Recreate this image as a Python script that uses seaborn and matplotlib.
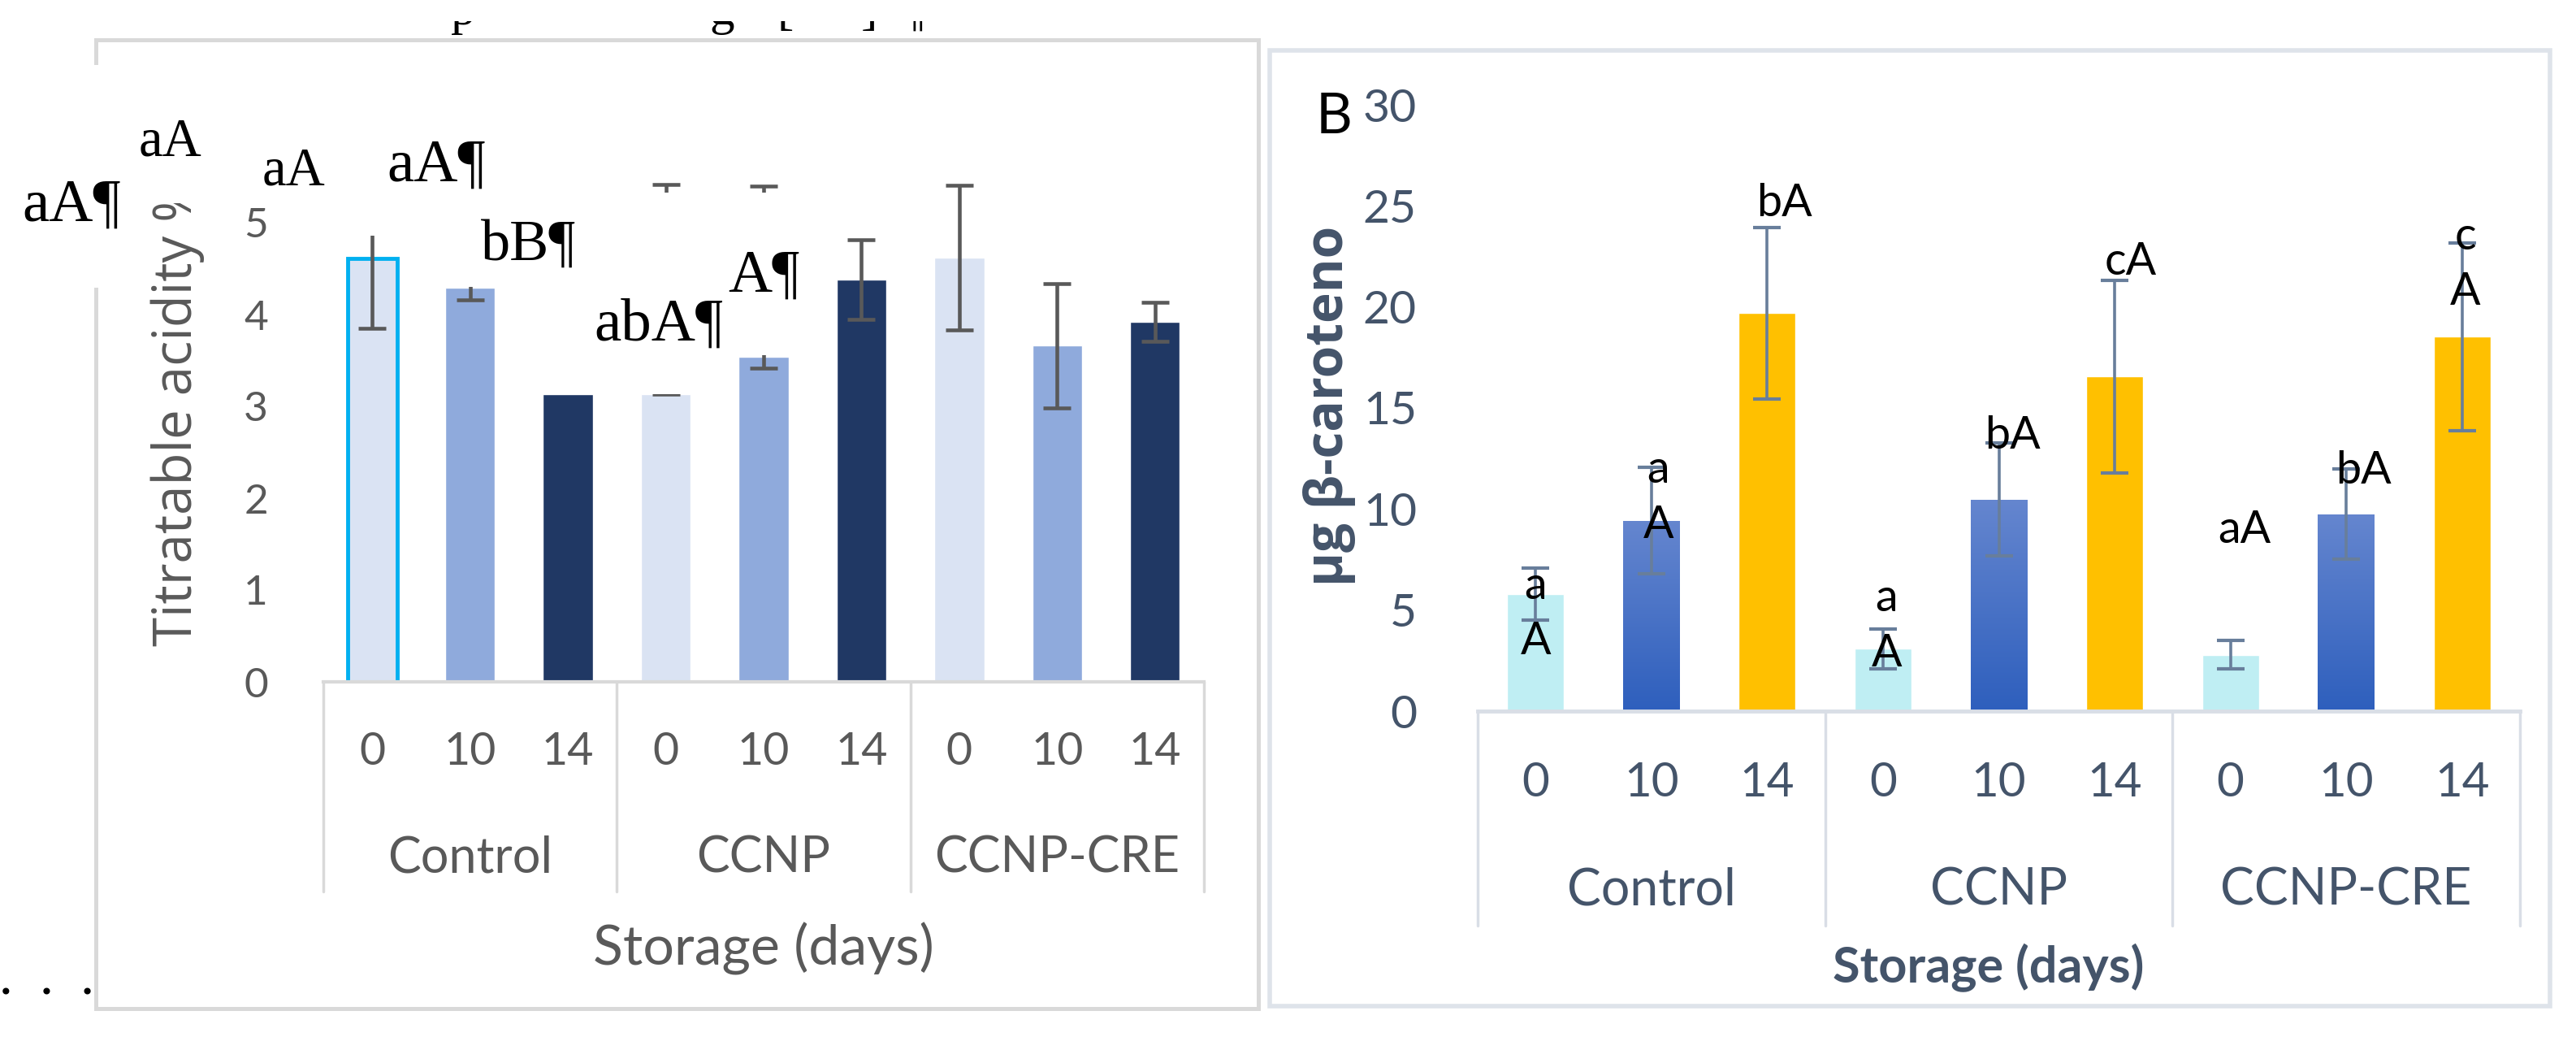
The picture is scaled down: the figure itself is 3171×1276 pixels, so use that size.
import numpy as np
import pandas as pd
import matplotlib
matplotlib.use('Agg')
import matplotlib.pyplot as plt
import matplotlib.transforms as mtransforms
from matplotlib.patches import Rectangle
from matplotlib.colors import LinearSegmentedColormap
import seaborn as sns

sns.set_theme(style="white")
plt.rcParams['font.family'] = ['Lato', 'DejaVu Sans']

groups = ['Control', 'CCNP', 'CCNP-CRE']
days = ['0', '10', '14']

# panel A - titratable acidity
acid = [4.61, 4.29, 3.13, 3.13, 3.54, 4.38, 4.62, 3.66, 3.92]
acid_lo = [0.76, 0.13, 0.0, 0.0, 0.12, 0.43, 0.79, 0.68, 0.21]
acid_hi = [0.76, 0.13, 0.0, 2.29, 1.86, 0.43, 0.79, 0.68, 0.21]
acid_letters = ['aA¶', 'aA', 'aA', 'aA¶', 'bB¶', 'abA¶', 'A¶']

# panel B - beta carotene
carot = [5.79, 9.43, 19.70, 3.08, 10.47, 16.55, 2.78, 9.75, 18.52]
carot_err = [1.27, 2.63, 4.24, 1.00, 2.80, 4.75, 0.70, 2.22, 4.65]
carot_letters = ['a\nA', 'a\nA', 'bA', 'a\nA', 'bA', 'cA', 'aA', 'bA', 'c\nA']

# where the letter boxes sit (data coords) and their font size
acid_letter_pos = [(-1.357, 5.18, 54), (-1.022, 5.88, 48), (-0.60, 5.56, 48), (-0.116, 5.61, 54),
                   (0.20, 4.75, 52), (0.643, 3.88, 54), (1.0, 4.41, 54)]
carot_letter_pos = [(0.0, 4.8), (0.02, 10.55), (0.05, 25.1), (0.01, 4.2), (0.04, 13.6),
                    (0.045, 22.2), (0.04, 8.96), (0.05, 11.9), (0.01, 22.1)]

W, H = 3171, 1276
fig = plt.figure(figsize=(W / 100, H / 100), dpi=100)

# chart frames of the two pasted excel charts
fig.add_artist(Rectangle((118 / W, 1 - 1241 / H), 1431 / W, 1192 / H, transform=fig.transFigure,
                         fill=False, edgecolor='#D9D9D9', lw=3.6, zorder=-3))
fig.add_artist(Rectangle((1563 / W, 1 - 1238 / H), 1576 / W, 1176 / H, transform=fig.transFigure,
                         fill=False, edgecolor='#DEE3EA', lw=4, zorder=-3))
# text box hiding part of the left frame
fig.add_artist(Rectangle((100 / W, 1 - 354 / H), 40 / W, 274 / H, transform=fig.transFigure,
                         facecolor='white', edgecolor='none', zorder=-2))

# ---------------- panel A ----------------
ax1 = fig.add_axes([398 / W, 1 - 839 / H, 1084 / W, 678 / H])
ax1.patch.set_alpha(0)
df_a = pd.DataFrame({'group': np.repeat(groups, 3), 'day': days * 3, 'value': acid})
sns.barplot(data=df_a, x='group', y='value', hue='day', hue_order=days,
            palette=['#DAE3F3', '#8FAADC', '#203864'], width=1.0, gap=0.49,
            saturation=1, errorbar=None, legend=False, ax=ax1)
bars1 = sorted(ax1.patches, key=lambda p: p.get_x())
x1 = [p.get_x() + p.get_width() / 2 for p in bars1]
bars1[0].set_edgecolor('#00B0F0')
bars1[0].set_linewidth(3.5)

idx = [i for i in range(9) if acid_lo[i] + acid_hi[i] > 0]
ax1.errorbar([x1[i] for i in idx], [acid[i] for i in idx],
             yerr=[[acid_lo[i] for i in idx], [acid_hi[i] for i in idx]],
             fmt='none', ecolor='#595959', elinewidth=3.3, capsize=12, capthick=3.3, zorder=3)

# white fills of the overlapping word text boxes
for (xa, xb, ya, yb) in [(-0.42, -0.25, 4.86, 5.45), (-0.07, 0.07, 4.305, 4.47),
                         (0.55, 0.84, 3.135, 5.33), (0.84, 1.12, 3.56, 5.33)]:
    ax1.add_patch(Rectangle((xa, ya), xb - xa, yb - ya, facecolor='white', edgecolor='none', zorder=4))
# box covering the end of the y label
ax1.add_patch(Rectangle((-0.215, 0.869), 0.1, 0.27, transform=ax1.transAxes, facecolor='white',
                        edgecolor='none', clip_on=False, zorder=5))

for lab, (lx, ly, fs) in zip(acid_letters, acid_letter_pos):
    ax1.text(lx, ly, lab, ha='center', va='center', fontsize=fs, family='Liberation Serif',
             color='black', clip_on=False, zorder=6)

ax1.set_xlim(-0.5, 2.5)
ax1.set_ylim(0, 6)
ax1.set_yticks(range(6))
ax1.set_xticks(x1, days * 3)
ax1.tick_params(axis='y', length=0, pad=49, labelsize=37, labelcolor='#595959')
ax1.tick_params(axis='x', length=0, pad=62, labelsize=40, labelcolor='#595959')
for t in ax1.get_xticklabels():
    t.set_va('center')
for s in ['left', 'top', 'right']:
    ax1.spines[s].set_visible(False)
ax1.spines['bottom'].set_color('#D9D9D9')
ax1.spines['bottom'].set_linewidth(3)
ax1.set_xlabel('')
ax1.set_ylabel('Titratable acidity %', fontsize=47, color='#595959', family=['Open Sans', 'DejaVu Sans'])
ax1.yaxis.set_label_coords(-0.165, 0.49)
ax1.yaxis.label.set_va('center')

tr1 = mtransforms.blended_transform_factory(ax1.transData, ax1.transAxes)
for xv in [-0.5, 0.5, 1.5, 2.5]:
    ax1.plot([xv, xv], [0, -0.381], transform=tr1, clip_on=False, color='#D9D9D9', lw=2.5)
for i, g in enumerate(groups):
    ax1.text(i, -0.32, g, transform=tr1, ha='center', va='center', fontsize=44, color='#595959')
ax1.text(0.5, -0.484, 'Storage (days)', transform=ax1.transAxes, ha='center', va='center',
         fontsize=49, color='#595959')

# ---------------- panel B ----------------
ax2 = fig.add_axes([1819 / W, 1 - 875 / H, 1283 / W, 746 / H])
ax2.patch.set_alpha(0)
df_b = pd.DataFrame({'group': np.repeat(groups, 3), 'day': days * 3, 'value': carot})
sns.barplot(data=df_b, x='group', y='value', hue='day', hue_order=days,
            palette=['#BFEEF3', '#3F6CC6', '#FFC000'], width=1.0, gap=0.51,
            saturation=1, errorbar=None, legend=False, ax=ax2)
bars2 = sorted(ax2.patches, key=lambda p: p.get_x())
x2 = [p.get_x() + p.get_width() / 2 for p in bars2]

# gradient fill on the day-10 bars
cmap = LinearSegmentedColormap.from_list('blue10', ['#2E5FBD', '#6586CF'])
grad = np.linspace(0, 1, 256).reshape(-1, 1)
for p in bars2[1::3]:
    im = ax2.imshow(grad, cmap=cmap, origin='lower', aspect='auto',
                    extent=[p.get_x(), p.get_x() + p.get_width(), 0, p.get_height()],
                    zorder=p.get_zorder() + 0.1)
    im.set_clip_path(p)

ax2.errorbar(x2, carot, yerr=carot_err, fmt='none', ecolor='#687E9B', elinewidth=2.6,
             capsize=12, capthick=3, zorder=3)

for lab, xc, (dx, ly) in zip(carot_letters, x2, carot_letter_pos):
    ax2.text(xc + dx, ly, lab, ha='center', va='center', fontsize=40, color='black',
             linespacing=1.4, zorder=6)

ax2.set_xlim(-0.5, 2.5)
ax2.set_ylim(0, 30)
ax2.set_yticks(range(0, 31, 5))
ax2.set_xticks(x2, days * 3)
ax2.tick_params(axis='y', length=0, pad=54, labelsize=41, labelcolor='#44546A')
ax2.tick_params(axis='x', length=0, pad=64, labelsize=42, labelcolor='#44546A')
for t in ax2.get_xticklabels():
    t.set_va('center')
for s in ['left', 'top', 'right']:
    ax2.spines[s].set_visible(False)
ax2.spines['bottom'].set_color('#D9DEE6')
ax2.spines['bottom'].set_linewidth(3.5)
ax2.set_xlabel('')
ax2.set_ylabel('µg β-caroteno', fontsize=46, fontweight='bold', color='#44546A',
               family=['Open Sans', 'DejaVu Sans'])
ax2.yaxis.set_label_coords(-0.142, 0.504)
ax2.yaxis.label.set_va('center')

tr2 = mtransforms.blended_transform_factory(ax2.transData, ax2.transAxes)
for xv in [-0.5, 0.5, 1.5, 2.5]:
    ax2.plot([xv, xv], [0, -0.354], transform=tr2, clip_on=False, color='#D9DEE6', lw=2.5)
for i, g in enumerate(groups):
    ax2.text(i, -0.296, g, transform=tr2, ha='center', va='center', fontsize=45, color='#44546A')
ax2.text(0.49, -0.424, 'Storage (days)', transform=ax2.transAxes, ha='center', va='center',
         fontsize=44, fontweight='bold', color='#44546A')

fig.text(1642 / W, 1 - 144 / H, 'B', ha='center', va='center', fontsize=50, color='black')

# clipped line of the document above panel A, and the dots bottom left
for ch, px in [('p', 570), ('g', 889), ('[', 967), (']', 1070), ('¶', 1125)]:
    fig.text(px / W, 1 - 30 / H, ch, ha='center', va='baseline', fontsize=44,
             family='Liberation Serif', color='black')
fig.add_artist(Rectangle((0, 1 - 26 / H), 1, 26 / H, transform=fig.transFigure,
                         facecolor='white', edgecolor='none', zorder=10))
fig.text(57 / W, 1 - 1212 / H, '.   .   .', ha='center', va='center', fontsize=36,
         family='Liberation Serif', fontweight='bold', color='black')

fig.savefig('out.png', dpi=100, facecolor='white')
